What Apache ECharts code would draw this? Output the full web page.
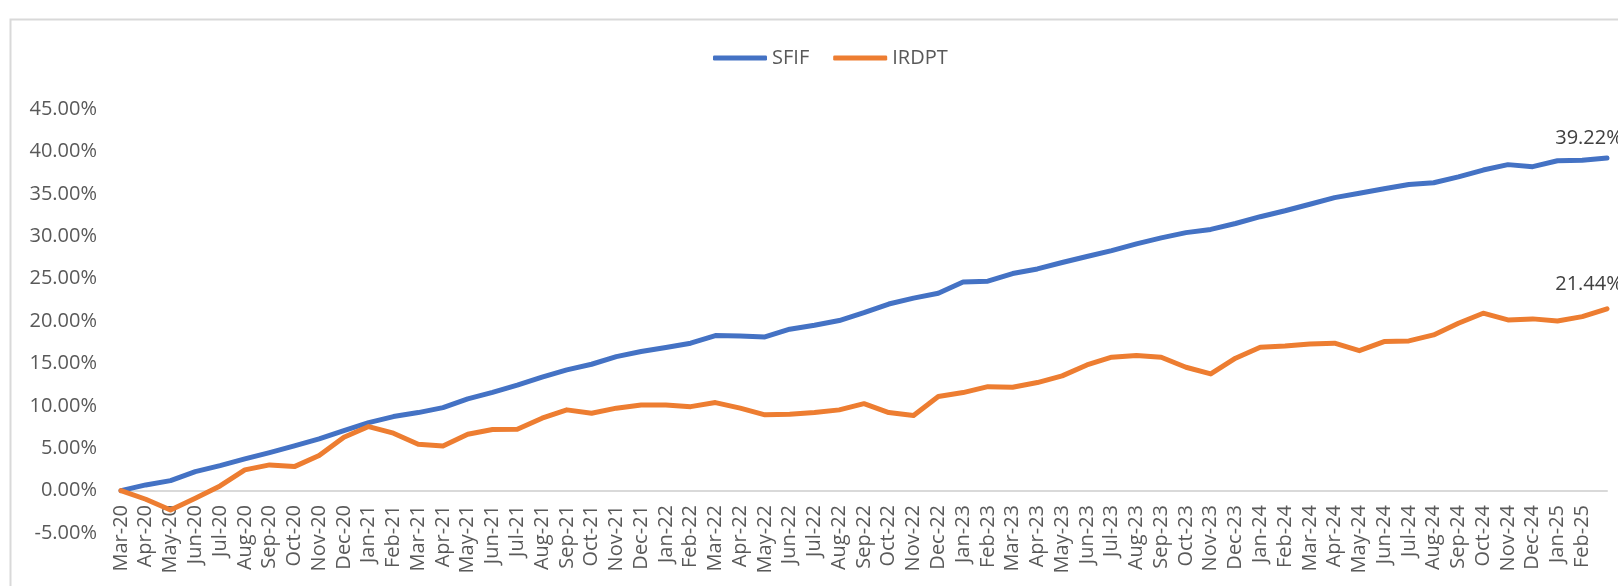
<!DOCTYPE html>
<html>
<head>
<meta charset="utf-8">
<title>SFIF vs IRDPT</title>
<script src="https://cdn.jsdelivr.net/npm/echarts@6/dist/echarts.min.js"></script>
<style>
  html, body { margin: 0; padding: 0; background: #fff; }
  #chart { width: 1618px; height: 586px; }
</style>
</head>
<body>
<div id="chart"></div>
<script>
  // monthly categories, last one has no visible label in the original
  const months = [
    'Mar-20', 'Apr-20', 'May-20', 'Jun-20', 'Jul-20', 'Aug-20', 'Sep-20', 'Oct-20', 'Nov-20', 'Dec-20',
    'Jan-21', 'Feb-21', 'Mar-21', 'Apr-21', 'May-21', 'Jun-21', 'Jul-21', 'Aug-21', 'Sep-21', 'Oct-21', 'Nov-21', 'Dec-21',
    'Jan-22', 'Feb-22', 'Mar-22', 'Apr-22', 'May-22', 'Jun-22', 'Jul-22', 'Aug-22', 'Sep-22', 'Oct-22', 'Nov-22', 'Dec-22',
    'Jan-23', 'Feb-23', 'Mar-23', 'Apr-23', 'May-23', 'Jun-23', 'Jul-23', 'Aug-23', 'Sep-23', 'Oct-23', 'Nov-23', 'Dec-23',
    'Jan-24', 'Feb-24', 'Mar-24', 'Apr-24', 'May-24', 'Jun-24', 'Jul-24', 'Aug-24', 'Sep-24', 'Oct-24', 'Nov-24', 'Dec-24',
    'Jan-25', 'Feb-25', 'Mar-25'
  ]

  // cumulative return, in %
  const sfif = [
    0.00, 0.67, 1.18, 2.24, 2.95, 3.74, 4.48, 5.27, 6.10, 7.08,
    8.02, 8.73, 9.20, 9.79, 10.81, 11.58, 12.43, 13.37, 14.23, 14.90, 15.80, 16.40,
    16.87, 17.38, 18.28, 18.24, 18.12, 19.03, 19.50, 20.05, 20.98, 22.00, 22.70, 23.28,
    24.60, 24.69, 25.60, 26.14, 26.90, 27.60, 28.30, 29.10, 29.80, 30.42, 30.80, 31.50,
    32.30, 33.00, 33.77, 34.55, 35.07, 35.60, 36.10, 36.30, 37.00, 37.80, 38.44, 38.20,
    38.90, 38.96, 39.22
  ]
  const irdpt = [
    0.00, -1.02, -2.28, -0.90, 0.55, 2.44, 3.03, 2.83, 4.13, 6.29,
    7.55, 6.77, 5.47, 5.27, 6.65, 7.20, 7.24, 8.54, 9.52, 9.13, 9.72, 10.10,
    10.10, 9.90, 10.38, 9.72, 8.93, 9.00, 9.20, 9.52, 10.25, 9.20, 8.85, 11.09,
    11.56, 12.26, 12.19, 12.74, 13.53, 14.82, 15.73, 15.92, 15.73, 14.55, 13.76, 15.61,
    16.90, 17.06, 17.30, 17.38, 16.50, 17.57, 17.65, 18.36, 19.74, 20.92, 20.13, 20.25,
    20.00, 20.52, 21.44
  ]

  const yMin = -5
  const yMax = 45
  const yStep = 5

  const font = "'Open Sans', 'Noto Sans', sans-serif"
  const lastIdx = months.length - 1

  const gridTop = 109
  const gridBottom = 53
  const plotH = 586 - gridTop - gridBottom
  // category axis sits on the 0% line, labels hang from it
  const zeroShift = Math.round((0 - yMin) / (yMax - yMin) * plotH)

  const chart = echarts.init(document.getElementById('chart'), null, { renderer: 'canvas' })

  function makeSeries(name, values, color, labelGap) {
    return {
      name: name,
      type: 'line',
      data: values,
      showSymbol: true,
      symbol: 'circle',
      symbolSize: 0,
      lineStyle: { width: 5, color: color, cap: 'round', join: 'round' },
      itemStyle: { color: color },
      emphasis: { disabled: true },
      label: {
        show: true,
        position: 'top',
        distance: labelGap,
        offset: [-18, 0],
        color: '#404040',
        fontFamily: font,
        fontSize: 20,
        formatter: function (p) {
          return p.dataIndex === lastIdx ? p.value.toFixed(2) + '%' : ''
        }
      }
    }
  }

  const option = {
    backgroundColor: '#fff',
    animation: false,
    graphic: [
      {
        type: 'rect',
        left: 8,
        top: 17,
        shape: { width: 1640, height: 600 },
        style: { fill: 'none', stroke: '#d9d9d9', lineWidth: 2 },
        silent: true,
        z: -1
      }
    ],
    legend: {
      left: 708,
      top: 43,
      icon: 'roundRect',
      itemWidth: 54,
      itemHeight: 5,
      itemGap: 24,
      textStyle: { color: '#595959', fontFamily: font, fontSize: 20 },
      data: ['SFIF', 'IRDPT']
    },
    grid: {
      left: 121,
      right: 11,
      top: gridTop,
      bottom: gridBottom,
      containLabel: false,
      outerBoundsMode: 'none'
    },
    xAxis: {
      type: 'category',
      data: months,
      boundaryGap: false,
      offset: -zeroShift,
      axisLine: { onZero: false, lineStyle: { color: '#d9d9d9', width: 2 } },
      axisTick: { show: false },
      splitLine: { show: false },
      axisLabel: {
        rotate: 90,
        interval: 0,
        margin: 14,
        hideOverlap: false,
        color: '#595959',
        fontFamily: font,
        fontSize: 20,
        formatter: function (v, i) {
          return i === lastIdx ? '' : v
        }
      }
    },
    yAxis: {
      type: 'value',
      min: yMin,
      max: yMax,
      interval: yStep,
      axisLine: { show: false },
      axisTick: { show: false },
      splitLine: { show: false },
      axisLabel: {
        margin: 24,
        color: '#595959',
        fontFamily: font,
        fontSize: 20,
        formatter: function (v) {
          return v.toFixed(2) + '%'
        }
      }
    },
    series: [
      makeSeries('SFIF', sfif, '#4472C4', 10),
      makeSeries('IRDPT', irdpt, '#ED7D31', 14)
    ]
  }

  chart.setOption(option)
</script>
</body>
</html>
